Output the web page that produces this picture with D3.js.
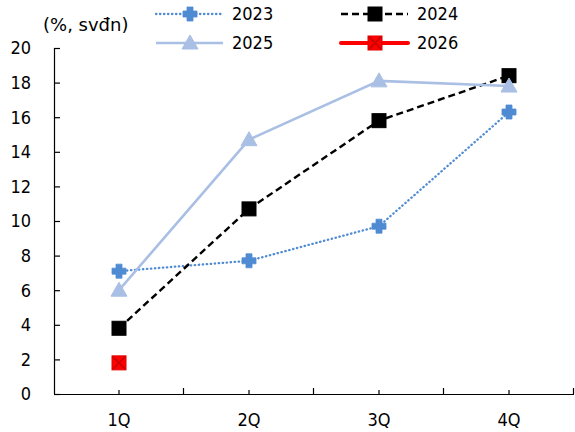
<!DOCTYPE html>
<html>
<head>
<meta charset="utf-8">
<script src="https://cdn.jsdelivr.net/npm/d3@7"></script>
<style>
  html, body { margin: 0; padding: 0; background: #fff; }
  svg text { font-family: "DejaVu Sans Condensed", "DejaVu Sans", sans-serif; font-stretch: condensed; font-size: 18px; fill: #000; }
  svg text.unit { font-family: "DejaVu Sans", sans-serif; font-stretch: normal; }
</style>
</head>
<body>
<svg id="chart" width="575" height="432"></svg>
<script>
// Quarterly values (%, year to date) per year
const quarters = ["1Q", "2Q", "3Q", "4Q"];
const values2023 = [7.1, 7.7, 9.7, 16.3];
const values2024 = [3.8, 10.7, 15.8, 18.4];
const values2025 = [6.0, 14.7, 18.1, 17.8];
const values2026 = [1.8];
const yTicks = [0, 2, 4, 6, 8, 10, 12, 14, 16, 18, 20];
const unitLabel = "(%, svđn)";

const series = [
  { name: "2023", values: values2023, color: "#4F8BD3", width: 2.3, dash: "0.4 3.6", cap: "round", marker: "plus", legendX: 156, legendY: 14 },
  { name: "2024", values: values2024, color: "#000000", width: 2.4, dash: "7 4", cap: "butt", marker: "square", legendX: 341, legendY: 14 },
  { name: "2025", values: values2025, color: "#A9BFE4", width: 2.6, dash: null, cap: "butt", marker: "triangle", legendX: 156, legendY: 43 },
  { name: "2026", values: values2026, color: "#FF0000", width: 4, dash: null, cap: "round", marker: "xsquare", legendX: 341, legendY: 43 }
];

const svg = d3.select("#chart");
const plotLeft = 54, plotRight = 574, plotTop = 48, plotBottom = 394;

const x = d3.scaleBand().domain(quarters).range([plotLeft, plotRight]).padding(0);
const cx = q => x(q) + x.bandwidth() / 2;
const y = d3.scaleLinear().domain([0, 20]).range([plotBottom, plotTop]);

// Y axis with inside ticks
const yAxis = svg.append("g").attr("transform", `translate(${plotLeft},0)`)
  .call(d3.axisRight(y).tickValues(yTicks).tickSize(6).tickFormat(""));
yAxis.select(".domain").attr("d", `M0.5,${plotTop}V${plotBottom}`).attr("stroke", "#000").attr("stroke-width", 1.2);
yAxis.selectAll(".tick line").attr("stroke", "#000").attr("stroke-width", 1.2);
svg.append("g").selectAll("text").data(yTicks).join("text")
  .attr("x", 31).attr("y", d => y(d)).attr("dy", "0.36em")
  .attr("text-anchor", "end").text(d => d);

// X axis: line, boundary ticks, centre ticks, labels
const xg = svg.append("g");
xg.append("line").attr("x1", plotLeft).attr("x2", plotRight).attr("y1", plotBottom + 0.5).attr("y2", plotBottom + 0.5)
  .attr("stroke", "#000").attr("stroke-width", 1.2);
const edges = quarters.map(q => x(q)).concat([plotRight]).slice(1);
xg.selectAll("line.edge").data(edges).join("line").attr("class", "edge")
  .attr("x1", d => d - 0.5).attr("x2", d => d - 0.5).attr("y1", plotBottom).attr("y2", plotBottom - 6)
  .attr("stroke", "#000").attr("stroke-width", 1.2);
xg.selectAll("line.mid").data(quarters).join("line").attr("class", "mid")
  .attr("x1", d => cx(d)).attr("x2", d => cx(d)).attr("y1", plotBottom).attr("y2", plotBottom - 4)
  .attr("stroke", "#000").attr("stroke-width", 1.2);
xg.selectAll("text").data(quarters).join("text")
  .attr("x", d => cx(d)).attr("y", 426).attr("text-anchor", "middle").text(d => d);

// Unit label
svg.append("text").attr("class", "unit").attr("x", 43).attr("y", 25).attr("dy", "0.36em").text(unitLabel);

function drawMarker(g, type, color, px, py) {
  if (type === "plus") {
    const a = 7, t = 3;
    g.append("path")
      .attr("d", `M${px - t},${py - a}H${px + t}V${py - t}H${px + a}V${py + t}H${px + t}V${py + a}H${px - t}V${py + t}H${px - a}V${py - t}H${px - t}Z`)
      .attr("fill", color).attr("stroke", color).attr("stroke-width", 0.8).attr("stroke-linejoin", "round");
  } else if (type === "square") {
    g.append("rect").attr("x", px - 7).attr("y", py - 7).attr("width", 14).attr("height", 14)
      .attr("fill", color).attr("stroke", color).attr("stroke-width", 1);
  } else if (type === "triangle") {
    g.append("path").attr("d", `M${px},${py - 8}L${px + 8},${py + 6}L${px - 8},${py + 6}Z`)
      .attr("fill", color).attr("stroke", color).attr("stroke-width", 1);
  } else if (type === "xsquare") {
    g.append("rect").attr("x", px - 7).attr("y", py - 7).attr("width", 14).attr("height", 14)
      .attr("fill", color).attr("stroke", "#E00000").attr("stroke-width", 1);
    g.append("path").attr("d", `M${px - 6},${py - 6}L${px + 6},${py + 6}M${px + 6},${py - 6}L${px - 6},${py + 6}`)
      .attr("stroke", "#D00000").attr("stroke-width", 2);
  }
}

const line = d3.line().x(d => cx(d.q)).y(d => y(d.v));

series.forEach(s => {
  const pts = s.values.map((v, i) => ({ q: quarters[i], v }));
  const g = svg.append("g");
  if (pts.length > 1) {
    g.append("path").datum(pts).attr("d", line).attr("fill", "none")
      .attr("stroke", s.color).attr("stroke-width", s.width)
      .attr("stroke-dasharray", s.dash).attr("stroke-linecap", s.cap);
  }
  pts.forEach(p => drawMarker(g, s.marker, s.color, cx(p.q), y(p.v)));

  // Legend entry
  const lg = svg.append("g");
  lg.append("line").attr("x1", s.legendX).attr("x2", s.legendX + 67)
    .attr("y1", s.legendY).attr("y2", s.legendY)
    .attr("stroke", s.color).attr("stroke-width", s.width)
    .attr("stroke-dasharray", s.dash).attr("stroke-linecap", s.cap);
  drawMarker(lg, s.marker, s.color, s.legendX + 34, s.legendY);
  lg.append("text").attr("x", s.legendX + 76).attr("y", s.legendY).attr("dy", "0.36em").text(s.name);
});
</script>
</body>
</html>
